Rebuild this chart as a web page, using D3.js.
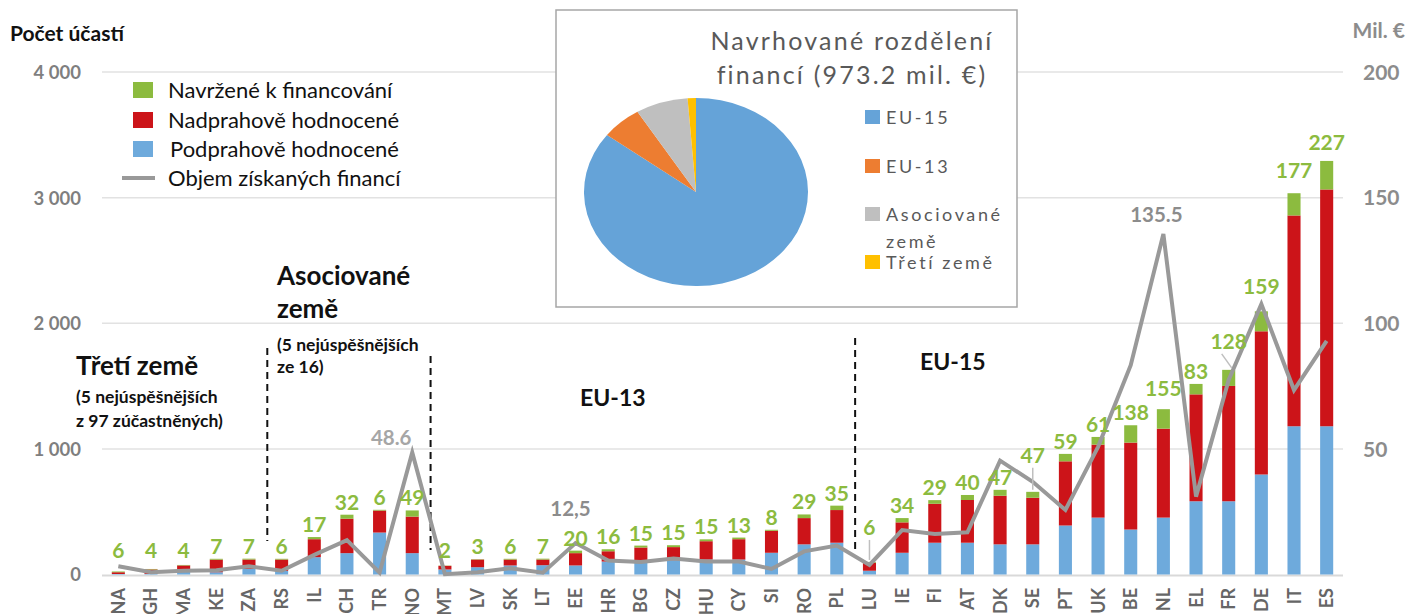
<!DOCTYPE html>
<html>
<head>
<meta charset="utf-8">
<script src="https://cdn.jsdelivr.net/npm/d3@7"></script>
<style>
  body { margin: 0; background: #fff; }
  svg { display: block; font-family: Lato, "Open Sans", sans-serif; }
</style>
</head>
<body>
<svg id="chart" width="1407" height="614"></svg>
<script>
// data
var countries = ["NA", "GH", "MA", "KE", "ZA", "RS", "IL", "CH", "TR", "NO", "MT", "LV", "SK", "LT", "EE", "HR", "BG", "CZ", "HU", "CY", "SI", "RO", "PL", "LU", "IE", "FI", "AT", "DK", "SE", "PT", "UK", "BE", "NL", "EL", "FR", "DE", "IT", "ES"];
var belowThreshold = [4, 5, 24, 18, 45, 29, 138, 170, 334, 170, 40, 58, 72, 74, 72, 103, 106, 114, 119, 119, 173, 240, 253, 30, 173, 253, 253, 240, 240, 390, 453, 358, 453, 583, 583, 796, 1180, 1180];
var aboveThreshold = [14, 35, 48, 100, 74, 90, 143, 274, 175, 291, 29, 61, 47, 45, 98, 82, 109, 104, 146, 162, 175, 209, 260, 64, 242, 310, 340, 387, 371, 511, 581, 692, 708, 851, 918, 1140, 1678, 1885];
var proposed = [6, 4, 4, 7, 7, 6, 17, 32, 6, 49, 2, 3, 6, 7, 20, 16, 15, 15, 15, 13, 8, 29, 35, 6, 34, 29, 40, 47, 47, 59, 61, 138, 155, 83, 128, 159, 177, 227];
var funding = [3.3, 0.9, 1.5, 1.7, 3.3, 1.5, 7.8, 13.7, 0.7, 48.6, 0.1, 0.9, 2.5, 0.7, 12.5, 5.6, 5.0, 6.4, 5.2, 5.2, 2.2, 9.2, 11.5, 3.8, 17.7, 16.1, 16.8, 45.3, 36.9, 25.7, 50.8, 83.3, 135.5, 31, 77.4, 107.6, 73.4, 93];
var fundingLabels = { "NO": "48.6", "EE": "12,5", "NL": "135.5" };
var leftTicks = [0, 1000, 2000, 3000, 4000];
var rightTicks = [50, 100, 150, 200];
var pieNames = ["EU-15", "EU-13", "Asociované země", "Třetí země"];
var pieValues = [831, 57, 73.5, 11.7];
var seriesNames = ["Navržené k financování", "Nadprahově hodnocené", "Podprahově hodnocené", "Objem získaných financí"];

// layout nudges for a few crowded labels
var labelLift = { "LU": 22, "SE": 24, "FR": 16, "DE": 12, "IT": 10, "NL": 8, "ES": 6 };
var leaders = ["LU", "SE", "FR"];

var colBlue = "#6eaadc", colRed = "#cc1419", colGreen = "#8cbb3f", colLine = "#999999";

var svg = d3.select("#chart");
var x = d3.scaleBand().domain(countries).range([102, 1343]).paddingInner(0.6).paddingOuter(0.3);
var y = d3.scaleLinear().domain([0, 4000]).range([574.5, 72]);
var yR = d3.scaleLinear().domain([0, 200]).range([574.5, 72]);
var bw = x.bandwidth();
function cx(c) { return x(c) + bw / 2; }

// gridlines
svg.append("g").selectAll("line").data(leftTicks.slice(1)).enter().append("line")
    .attr("x1", 102).attr("x2", 1343)
    .attr("y1", function (d) { return y(d); }).attr("y2", function (d) { return y(d); })
    .attr("stroke", "#e2e2e2").attr("stroke-width", 1.5);
svg.append("line").attr("x1", 102).attr("x2", 1343).attr("y1", y(0) + 1).attr("y2", y(0) + 1)
    .attr("stroke", "#d9d9d9").attr("stroke-width", 2);

// left axis
var axL = svg.append("g").attr("transform", "translate(81,0)")
    .call(d3.axisLeft(y).tickValues(leftTicks).tickSize(0).tickPadding(0)
        .tickFormat(function (d) { return d3.format(",")(d).replace(",", " "); }));
axL.select(".domain").remove();
axL.selectAll("text").attr("font-family", "Lato, sans-serif").attr("font-size", 18.5)
    .attr("font-weight", "bold").attr("fill", "#7f7f7f").attr("dy", "0.35em");

// right axis
var axR = svg.append("g").attr("transform", "translate(1363,0)")
    .call(d3.axisRight(yR).tickValues(rightTicks).tickSize(0).tickPadding(0));
axR.select(".domain").remove();
axR.selectAll("text").attr("font-family", "Lato, sans-serif").attr("font-size", 21)
    .attr("font-weight", "bold").attr("fill", "#8c8c8c").attr("dy", "0.35em");

svg.append("text").attr("x", 10).attr("y", 41).text("Počet účastí")
    .attr("font-size", 21).attr("font-weight", "bold").attr("fill", "#111");
svg.append("text").attr("x", 1405).attr("y", 38).attr("text-anchor", "end").text("Mil. €")
    .attr("font-size", 21).attr("font-weight", "bold").attr("fill", "#8c8c8c");

// stacked bars
var rows = countries.map(function (c, i) {
    return { country: c, below: belowThreshold[i], above: aboveThreshold[i], proposed: proposed[i] };
});
var stack = d3.stack().keys(["below", "above", "proposed"])(rows);
var colors = [colBlue, colRed, colGreen];
svg.append("g").selectAll("g").data(stack).enter().append("g")
    .attr("fill", function (d, i) { return colors[i]; })
    .selectAll("rect").data(function (d) { return d; }).enter().append("rect")
    .attr("x", function (d) { return x(d.data.country); })
    .attr("width", bw)
    .attr("y", function (d) { return y(d[1]); })
    .attr("height", function (d) { return y(d[0]) - y(d[1]); });

// dashed group separators
var seps = [[4, 348, 541], [9, 356, 550], [22, 338, 550]];
svg.append("g").selectAll("line").data(seps).enter().append("line")
    .attr("x1", function (d) { return (cx(countries[d[0]]) + cx(countries[d[0] + 1])) / 2 + 2; })
    .attr("x2", function (d) { return (cx(countries[d[0]]) + cx(countries[d[0] + 1])) / 2 + 2; })
    .attr("y1", function (d) { return d[1]; }).attr("y2", function (d) { return d[2]; })
    .attr("stroke", "#111").attr("stroke-width", 2).attr("stroke-dasharray", "7,5");

// funding line
var line = d3.line().x(function (d, i) { return cx(countries[i]); }).y(function (d) { return yR(d); });
svg.append("path").datum(funding).attr("d", line)
    .attr("fill", "none").attr("stroke", colLine).attr("stroke-width", 4).attr("stroke-linejoin", "miter");

// green labels
function topOf(i) { return y(belowThreshold[i] + aboveThreshold[i] + proposed[i]); }
function labelY(i) {
    var c = countries[i];
    var base = Math.min(topOf(i) - 5, y(0) - 17);
    return base - (labelLift[c] || 0);
}
svg.append("g").selectAll("text").data(countries).enter().append("text")
    .attr("x", function (d) { return cx(d); })
    .attr("y", function (d, i) { return labelY(i); })
    .attr("text-anchor", "middle")
    .attr("font-size", 21).attr("font-weight", "bold").attr("fill", colGreen)
    .text(function (d, i) { return proposed[i]; });

// leader lines
svg.append("g").selectAll("line").data(leaders).enter().append("line")
    .attr("x1", function (d) { return d === "FR" ? cx(d) - 7 : cx(d); })
    .attr("y1", function (d) { return labelY(countries.indexOf(d)) + 5; })
    .attr("x2", function (d) { return d === "FR" ? cx(d) + 3 : cx(d); })
    .attr("y2", function (d) { return topOf(countries.indexOf(d)) - 2; })
    .attr("stroke", "#bfbfbf").attr("stroke-width", 1.5);

// funding value labels
var fl = Object.keys(fundingLabels);
var flOff = { "NO": [-21, -7], "EE": [-5, -27], "NL": [-7, -12] };
svg.append("g").selectAll("text").data(fl).enter().append("text")
    .attr("x", function (d) { return cx(d) + flOff[d][0]; })
    .attr("y", function (d) { return yR(funding[countries.indexOf(d)]) + flOff[d][1]; })
    .attr("text-anchor", "middle").attr("font-size", 20.5).attr("font-weight", "bold")
    .attr("fill", function (d) { return d === "NO" ? "#a6a6a6" : "#8c8c8c"; })
    .text(function (d) { return fundingLabels[d]; });

// category labels
svg.append("g").selectAll("text").data(countries).enter().append("text")
    .attr("transform", function (d) { return "translate(" + (cx(d) + 6.5) + ",588) rotate(-90)"; })
    .attr("text-anchor", "end").attr("font-size", 18).attr("font-weight", "bold").attr("fill", "#666")
    .text(function (d) { return d; });

// group annotations
var ann = [
    ["Třetí země", 76, 375, 26], ["(5 nejúspěšnějších", 76, 403, 17.5], ["z 97 zúčastněných)", 76, 427, 17.5],
    ["Asociované", 277, 285, 26], ["země", 277, 318, 26], ["(5 nejúspěšnějších", 277, 351, 17.5], ["ze 16)", 277, 373, 17.5],
    ["EU-13", 580, 406, 23], ["EU-15", 920, 370, 23]
];
svg.append("g").selectAll("text").data(ann).enter().append("text")
    .attr("x", function (d) { return d[1]; }).attr("y", function (d) { return d[2]; })
    .attr("font-size", function (d) { return d[3]; }).attr("font-weight", "bold").attr("fill", "#111")
    .text(function (d) { return d[0]; });

// legend
var leg = svg.append("g");
var legColors = [colGreen, colRed, colBlue];
[90, 120, 149].forEach(function (ly, i) {
    leg.append("rect").attr("x", 133).attr("y", ly - 8).attr("width", 20).attr("height", 16).attr("fill", legColors[i]);
});
leg.append("line").attr("x1", 122).attr("x2", 155).attr("y1", 178).attr("y2", 178)
    .attr("stroke", colLine).attr("stroke-width", 4);
[90, 120, 149, 178].forEach(function (ly, i) {
    leg.append("text").attr("x", i === 2 ? 170 : 168).attr("y", ly + 8).attr("font-size", 22).attr("fill", "#111")
        .text(seriesNames[i]);
});

// pie inset
var inset = svg.append("g");
inset.append("rect").attr("x", 556).attr("y", 10).attr("width", 461).attr("height", 297)
    .attr("fill", "#fff").attr("stroke", "#a6a6a6").attr("stroke-width", 1.5);
inset.append("text").attr("x", 852).attr("y", 50).attr("text-anchor", "middle").attr("font-size", 25)
    .attr("letter-spacing", 2.2).attr("fill", "#595959").text("Navrhované rozdělení");
inset.append("text").attr("x", 852).attr("y", 84).attr("text-anchor", "middle").attr("font-size", 25)
    .attr("letter-spacing", 2.2).attr("fill", "#595959").text("financí (973.2 mil. €)");

var pieColors = ["#65a3d8", "#ed7d31", "#bfbfbf", "#ffc000"];
var arcs = d3.pie().sort(null)(pieValues);
var arc = d3.arc().innerRadius(0).outerRadius(100);
inset.append("g").attr("transform", "translate(696,192) scale(1.12,0.94)")
    .selectAll("path").data(arcs).enter().append("path")
    .attr("d", arc).attr("fill", function (d, i) { return pieColors[i]; });

var pl = [[117, ["EU-15"]], [166, ["EU-13"]], [214, ["Asociované", "země"]], [262, ["Třetí země"]]];
pl.forEach(function (p, i) {
    inset.append("rect").attr("x", 865).attr("y", p[0] - 7).attr("width", 15).attr("height", 14).attr("fill", pieColors[i]);
    p[1].forEach(function (t, j) {
        inset.append("text").attr("x", 886).attr("y", p[0] + 7 + j * 27).attr("font-size", 18)
            .attr("letter-spacing", 2.6).attr("fill", "#595959").text(t);
    });
});
</script>
</body>
</html>
